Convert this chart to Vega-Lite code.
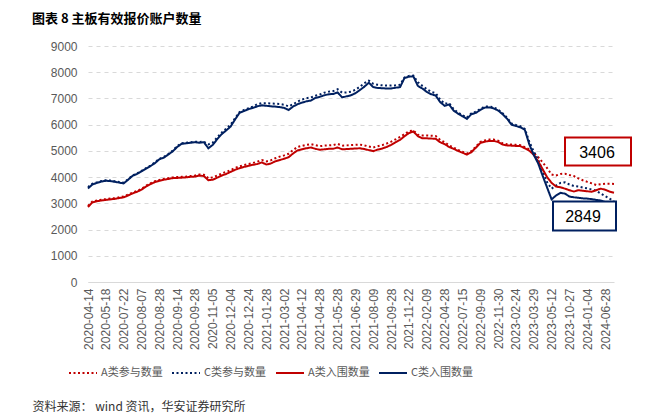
{
"$schema":"https://vega.github.io/schema/vega-lite/v6.json",
"width":526,"height":236,
"autosize":"none",
"padding":{"left":88,"top":46,"right":31,"bottom":131},
"background":"white",
"title":{"text":"图表 8 主板有效报价账户数量","anchor":"start","frame":"group","dx":-56,"offset":14,"fontSize":13,"fontWeight":"bold","font":"Noto Sans CJK SC","color":"#000000"},
"data":{"values":[
{"i":0,"ap":2900,"cp":3620,"ar":2860,"cr":3570},
{"i":1,"ap":3070,"cp":3750,"ar":3040,"cr":3720},
{"i":2,"ap":3110,"cp":3800,"ar":3080,"cr":3780},
{"i":3,"ap":3140,"cp":3850,"ar":3110,"cr":3830},
{"i":4,"ap":3160,"cp":3880,"ar":3130,"cr":3860},
{"i":5,"ap":3180,"cp":3870,"ar":3150,"cr":3850},
{"i":6,"ap":3200,"cp":3840,"ar":3170,"cr":3820},
{"i":7,"ap":3230,"cp":3810,"ar":3200,"cr":3790},
{"i":8,"ap":3260,"cp":3790,"ar":3230,"cr":3760},
{"i":9,"ap":3330,"cp":3920,"ar":3300,"cr":3900},
{"i":10,"ap":3410,"cp":4070,"ar":3380,"cr":4050},
{"i":11,"ap":3470,"cp":4140,"ar":3440,"cr":4120},
{"i":12,"ap":3550,"cp":4240,"ar":3520,"cr":4220},
{"i":13,"ap":3670,"cp":4340,"ar":3640,"cr":4320},
{"i":14,"ap":3760,"cp":4440,"ar":3730,"cr":4420},
{"i":15,"ap":3840,"cp":4560,"ar":3810,"cr":4530},
{"i":16,"ap":3890,"cp":4700,"ar":3860,"cr":4680},
{"i":17,"ap":3930,"cp":4770,"ar":3900,"cr":4740},
{"i":18,"ap":3960,"cp":4880,"ar":3930,"cr":4860},
{"i":19,"ap":3990,"cp":5010,"ar":3960,"cr":4980},
{"i":20,"ap":4000,"cp":5180,"ar":3970,"cr":5150},
{"i":21,"ap":4010,"cp":5290,"ar":3980,"cr":5270},
{"i":22,"ap":4020,"cp":5310,"ar":3990,"cr":5290},
{"i":23,"ap":4040,"cp":5330,"ar":4010,"cr":5310},
{"i":24,"ap":4060,"cp":5350,"ar":4020,"cr":5330},
{"i":25,"ap":4100,"cp":5340,"ar":4060,"cr":5310},
{"i":26,"ap":4090,"cp":5350,"ar":4040,"cr":5330},
{"i":27,"ap":3960,"cp":5250,"ar":3880,"cr":5100},
{"i":28,"ap":3990,"cp":5320,"ar":3900,"cr":5230},
{"i":29,"ap":4060,"cp":5520,"ar":3980,"cr":5450},
{"i":30,"ap":4140,"cp":5700,"ar":4060,"cr":5640},
{"i":31,"ap":4200,"cp":5850,"ar":4120,"cr":5780},
{"i":32,"ap":4270,"cp":6000,"ar":4200,"cr":5930},
{"i":33,"ap":4350,"cp":6250,"ar":4280,"cr":6200},
{"i":34,"ap":4410,"cp":6480,"ar":4340,"cr":6450},
{"i":35,"ap":4460,"cp":6560,"ar":4390,"cr":6520},
{"i":36,"ap":4500,"cp":6630,"ar":4430,"cr":6590},
{"i":37,"ap":4540,"cp":6690,"ar":4470,"cr":6640},
{"i":38,"ap":4590,"cp":6780,"ar":4500,"cr":6700},
{"i":39,"ap":4650,"cp":6820,"ar":4560,"cr":6740},
{"i":40,"ap":4600,"cp":6820,"ar":4480,"cr":6720},
{"i":41,"ap":4640,"cp":6810,"ar":4520,"cr":6700},
{"i":42,"ap":4720,"cp":6800,"ar":4600,"cr":6690},
{"i":43,"ap":4780,"cp":6790,"ar":4650,"cr":6670},
{"i":44,"ap":4830,"cp":6760,"ar":4700,"cr":6640},
{"i":45,"ap":4890,"cp":6700,"ar":4760,"cr":6560},
{"i":46,"ap":5030,"cp":6780,"ar":4900,"cr":6690},
{"i":47,"ap":5150,"cp":6880,"ar":5020,"cr":6780},
{"i":48,"ap":5190,"cp":6960,"ar":5060,"cr":6840},
{"i":49,"ap":5230,"cp":7010,"ar":5100,"cr":6890},
{"i":50,"ap":5260,"cp":7040,"ar":5130,"cr":6920},
{"i":51,"ap":5220,"cp":7100,"ar":5080,"cr":7020},
{"i":52,"ap":5180,"cp":7150,"ar":5040,"cr":7060},
{"i":53,"ap":5200,"cp":7220,"ar":5060,"cr":7120},
{"i":54,"ap":5210,"cp":7260,"ar":5080,"cr":7160},
{"i":55,"ap":5220,"cp":7280,"ar":5080,"cr":7170},
{"i":56,"ap":5270,"cp":7350,"ar":5130,"cr":7230},
{"i":57,"ap":5200,"cp":7220,"ar":5060,"cr":7040},
{"i":58,"ap":5210,"cp":7230,"ar":5070,"cr":7080},
{"i":59,"ap":5220,"cp":7260,"ar":5080,"cr":7120},
{"i":60,"ap":5230,"cp":7330,"ar":5090,"cr":7200},
{"i":61,"ap":5240,"cp":7450,"ar":5100,"cr":7320},
{"i":62,"ap":5210,"cp":7580,"ar":5070,"cr":7450},
{"i":63,"ap":5170,"cp":7680,"ar":5030,"cr":7600},
{"i":64,"ap":5130,"cp":7560,"ar":4990,"cr":7430},
{"i":65,"ap":5180,"cp":7520,"ar":5050,"cr":7400},
{"i":66,"ap":5220,"cp":7500,"ar":5090,"cr":7390},
{"i":67,"ap":5280,"cp":7490,"ar":5150,"cr":7380},
{"i":68,"ap":5350,"cp":7490,"ar":5230,"cr":7380},
{"i":69,"ap":5440,"cp":7500,"ar":5330,"cr":7410},
{"i":70,"ap":5530,"cp":7520,"ar":5420,"cr":7430},
{"i":71,"ap":5640,"cp":7800,"ar":5560,"cr":7780},
{"i":72,"ap":5750,"cp":7860,"ar":5680,"cr":7830},
{"i":73,"ap":5780,"cp":7870,"ar":5740,"cr":7840},
{"i":74,"ap":5620,"cp":7620,"ar":5560,"cr":7480},
{"i":75,"ap":5590,"cp":7480,"ar":5480,"cr":7380},
{"i":76,"ap":5590,"cp":7350,"ar":5480,"cr":7250},
{"i":77,"ap":5580,"cp":7250,"ar":5470,"cr":7160},
{"i":78,"ap":5570,"cp":7200,"ar":5460,"cr":7110},
{"i":79,"ap":5420,"cp":6960,"ar":5330,"cr":6860},
{"i":80,"ap":5330,"cp":6800,"ar":5260,"cr":6720},
{"i":81,"ap":5210,"cp":6820,"ar":5150,"cr":6770},
{"i":82,"ap":5130,"cp":6600,"ar":5080,"cr":6540},
{"i":83,"ap":5040,"cp":6460,"ar":5000,"cr":6420},
{"i":84,"ap":4970,"cp":6360,"ar":4930,"cr":6320},
{"i":85,"ap":4900,"cp":6270,"ar":4860,"cr":6220},
{"i":86,"ap":4990,"cp":6430,"ar":4950,"cr":6400},
{"i":87,"ap":5160,"cp":6490,"ar":5120,"cr":6450},
{"i":88,"ap":5340,"cp":6600,"ar":5300,"cr":6560},
{"i":89,"ap":5400,"cp":6690,"ar":5350,"cr":6650},
{"i":90,"ap":5430,"cp":6700,"ar":5380,"cr":6660},
{"i":91,"ap":5430,"cp":6660,"ar":5380,"cr":6620},
{"i":92,"ap":5390,"cp":6580,"ar":5340,"cr":6540},
{"i":93,"ap":5290,"cp":6440,"ar":5240,"cr":6400},
{"i":94,"ap":5250,"cp":6270,"ar":5210,"cr":6230},
{"i":95,"ap":5240,"cp":6050,"ar":5200,"cr":6000},
{"i":96,"ap":5230,"cp":5990,"ar":5190,"cr":5950},
{"i":97,"ap":5220,"cp":5940,"ar":5180,"cr":5900},
{"i":98,"ap":5140,"cp":5840,"ar":5100,"cr":5800},
{"i":99,"ap":5060,"cp":5350,"ar":5010,"cr":5250},
{"i":100,"ap":4920,"cp":4980,"ar":4850,"cr":4850},
{"i":101,"ap":4760,"cp":4660,"ar":4600,"cr":4520},
{"i":102,"ap":4560,"cp":4230,"ar":4300,"cr":4050},
{"i":103,"ap":4340,"cp":3800,"ar":4000,"cr":3600},
{"i":104,"ap":4100,"cp":3560,"ar":3780,"cr":3150},
{"i":105,"ap":4060,"cp":3680,"ar":3640,"cr":3300},
{"i":106,"ap":4120,"cp":3780,"ar":3610,"cr":3400},
{"i":107,"ap":4130,"cp":3800,"ar":3560,"cr":3370},
{"i":108,"ap":4080,"cp":3720,"ar":3500,"cr":3260},
{"i":109,"ap":4040,"cp":3660,"ar":3450,"cr":3230},
{"i":110,"ap":3950,"cp":3640,"ar":3500,"cr":3210},
{"i":111,"ap":3880,"cp":3600,"ar":3480,"cr":3190},
{"i":112,"ap":3820,"cp":3570,"ar":3460,"cr":3180},
{"i":113,"ap":3760,"cp":3530,"ar":3440,"cr":3160},
{"i":114,"ap":3700,"cp":3480,"ar":3500,"cr":3130},
{"i":115,"ap":3730,"cp":3380,"ar":3560,"cr":3110},
{"i":116,"ap":3750,"cp":3280,"ar":3520,"cr":3050},
{"i":117,"ap":3750,"cp":3180,"ar":3450,"cr":2960},
{"i":118,"ap":3740,"cp":3080,"ar":3406,"cr":2849}
]},
"encoding":{
 "x":{"field":"i","type":"quantitative","scale":{"domain":[0,118],"nice":false,"zero":false},
  "axis":{"values":[0,4,8,12,16,20,24,28,32,36,40,44,48,52,56,60,64,68,72,76,80,84,88,92,96,100,104,108,112,116],
   "labelExpr":"['2020-04-14','2020-05-18','2020-07-22','2020-08-07','2020-08-28','2020-09-14','2020-09-28','2020-11-05','2020-12-04','2020-12-24','2021-01-28','2021-03-02','2021-04-12','2021-04-28','2021-05-28','2021-06-29','2021-08-09','2021-09-28','2021-11-22','2022-02-09','2022-04-28','2022-07-15','2022-09-09','2022-11-30','2023-02-24','2023-03-29','2023-05-12','2023-10-27','2024-01-04','2024-06-28'][round(datum.value/4)]",
   "labelAngle":-90,"labelFontSize":12,"labelFont":"Liberation Sans","labelColor":"#595959","labelPadding":6,"labelFlush":false,"labelOverlap":false,"labelBound":false,
   "ticks":false,"grid":false,"domainColor":"#d9d9d9","domainWidth":1,
   "title":"资料来源： wind 资讯，华安证券研究所","titleX":-56,"titleY":124,"titleAlign":"left","titleAnchor":"start","titleBaseline":"middle","titleFontSize":12,"titleFontWeight":"normal","titleColor":"#333333","titleFont":"Noto Sans CJK SC"}},
 "y":{"field":"v","type":"quantitative","scale":{"domain":[0,9000],"nice":false},
  "axis":{"values":[0,1000,2000,3000,4000,5000,6000,7000,8000,9000],"format":"d","title":null,"domain":false,"ticks":false,"labelPadding":11,"labelFontSize":12,"labelFont":"Liberation Sans","labelColor":"#595959","gridDash":[4,4],"gridColor":"#d9d9d9","gridWidth":1}}
},
"layer":[
 {"transform":[{"fold":["ap","cp"],"as":["s","v"]}],
  "mark":{"type":"line","strokeCap":"butt","interpolate":"linear"},
  "encoding":{
   "color":{"field":"s","type":"nominal","scale":{"domain":["ap","cp","ar","cr"],"range":["#C00000","#002060","#C00000","#002060"]},
    "legend":{"orient":"none","legendX":-20,"legendY":312,"direction":"horizontal","columns":4,"symbolType":"stroke","symbolSize":784,"title":null,"labelFontSize":11,"labelColor":"#595959","labelFont":"Noto Sans CJK SC","columnPadding":5,"labelOffset":3,"padding":0,
     "labelExpr":"{'ap':'A类参与数量','cp':'C类参与数量','ar':'A类入围数量','cr':'C类入围数量'}[datum.value]"}},
   "strokeDash":{"field":"s","type":"nominal","scale":{"domain":["ap","cp","ar","cr"],"range":[[2,2.5],[2,2.5],[1,0],[1,0]]}},
   "strokeWidth":{"field":"s","type":"nominal","scale":{"domain":["ap","cp","ar","cr"],"range":[2,2,2.6,2.6]}}
  }},
 {"transform":[{"fold":["ar","cr"],"as":["s","v"]}],
  "mark":{"type":"line","interpolate":"linear"},
  "encoding":{
   "color":{"field":"s","type":"nominal"},
   "strokeDash":{"field":"s","type":"nominal"},
   "strokeWidth":{"field":"s","type":"nominal"}
  }},
 {"transform":[{"filter":"datum.i == 118"},{"fold":["ar"],"as":["s","v"]}],
  "mark":{"type":"point","shape":"M-0.98,-1.106L0.34,-1.106L0.34,-0.546L-0.98,-0.546Z","size":10000,"filled":true,"fill":"#ffffff","stroke":"#C00000","strokeWidth":2,"opacity":1}},
 {"transform":[{"filter":"datum.i == 118"},{"fold":["ar"],"as":["s","v"]}],
  "mark":{"type":"text","dx":-17,"dy":-40,"fontSize":16,"font":"Liberation Sans","color":"#000000"},
  "encoding":{"text":{"field":"v","type":"quantitative","format":"d"}}},
 {"transform":[{"filter":"datum.i == 118"},{"fold":["cr"],"as":["s","v"]}],
  "mark":{"type":"point","shape":"M-1.22,-0.114L0.04,-0.114L0.04,0.466L-1.22,0.466Z","size":10000,"filled":true,"fill":"#ffffff","stroke":"#002060","strokeWidth":2,"opacity":1}},
 {"transform":[{"filter":"datum.i == 118"},{"fold":["cr"],"as":["s","v"]}],
  "mark":{"type":"text","dx":-31,"dy":10,"fontSize":16,"font":"Liberation Sans","color":"#000000"},
  "encoding":{"text":{"field":"v","type":"quantitative","format":"d"}}}
],
"config":{"view":{"stroke":null},"font":"Liberation Sans"}
}
